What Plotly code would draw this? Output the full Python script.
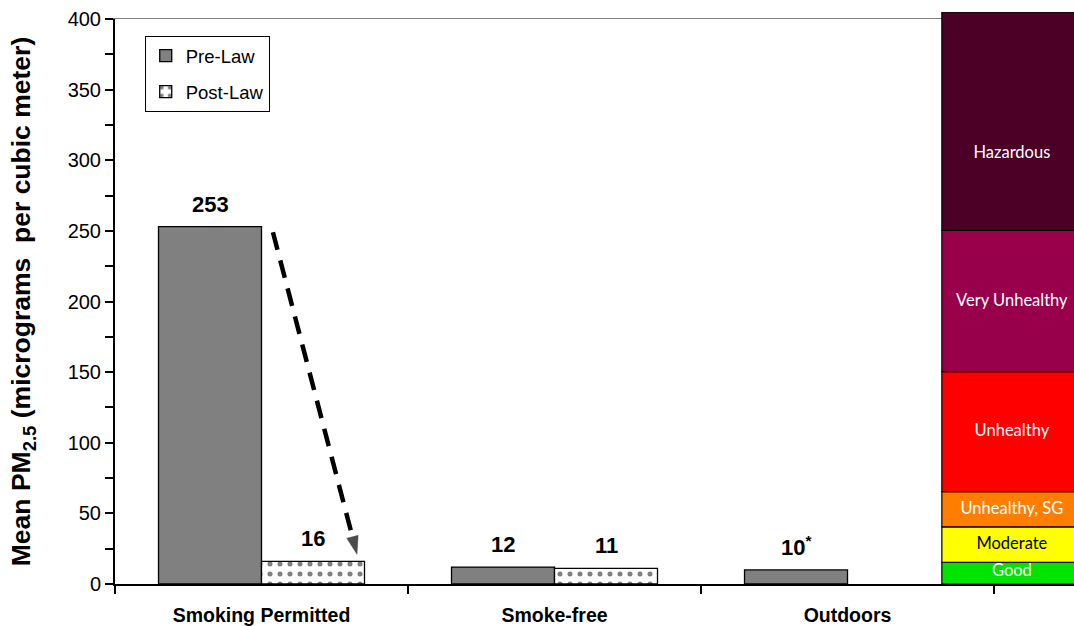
import plotly.graph_objects as go

# Venue categories and mean PM2.5 levels (µg/m³)
categories = ["Smoking Permitted", "Smoke-free", "Outdoors"]
pre_law = [253, 12, 10]
post_law = [16, 11, None]
pre_labels = ["253", "12", "10<sup>*</sup>"]
post_labels = ["16", "11", ""]

# Air Quality Index bands for PM2.5
aqi_names = ["Good", "Moderate", "Unhealthy, SG", "Unhealthy", "Very Unhealthy", "Hazardous"]
aqi_lower = [0, 15.4, 40.4, 65.4, 150.4, 250.4]
aqi_upper = [15.4, 40.4, 65.4, 150.4, 250.4, 405]
aqi_label_y = [8.5, 27.6, 52.4, 107.6, 199.6, 304.5]
aqi_colors = ["#00E400", "#FFFF00", "#FF7E00", "#FF0000", "#99004C", "#4C0026"]
aqi_text_colors = ["white", "black", "white", "white", "white", "white"]

FONT = "Liberation Sans, Arial, sans-serif"
X_RANGE = [-0.5, 2.773]
BAR_W = 0.3515  # each bar's width in category units
PLOT_H = 572    # pixel height of the taller AQI panel
MAIN_H = 565    # pixel height of the 0-400 panel

fig = go.Figure()

fig.add_trace(go.Bar(
    name="Pre-Law", x=categories, y=pre_law,
    marker=dict(color="#808080", line=dict(color="black", width=1.3)),
    legendgroup="pre",
))
fig.add_trace(go.Bar(
    name="Post-Law", x=categories, y=post_law,
    marker=dict(color="white", line=dict(color="black", width=1.3),
                pattern=dict(shape=".", fgcolor="black", bgcolor="white",
                             size=10, solidity=0.2)),
    legendgroup="post",
))

# AQI reference column (own panel, same vertical scale, reaching a little above 400)
aqi_x = 2.561
fig.add_trace(go.Bar(
    x=[aqi_x] * len(aqi_names),
    y=[u - l for l, u in zip(aqi_lower, aqi_upper)],
    base=aqi_lower,
    width=0.478,
    xaxis="x2", yaxis="y2",
    marker=dict(color=aqi_colors, line=dict(color="black", width=1.2)),
    showlegend=False, hoverinfo="skip",
))
fig.add_trace(go.Scatter(
    x=[aqi_x] * len(aqi_names), y=aqi_label_y, xaxis="x2", yaxis="y2",
    mode="text", text=aqi_names,
    textfont=dict(family="Lato, sans-serif", size=16.5, color=aqi_text_colors),
    showlegend=False, hoverinfo="skip",
))

# Dashed arrow from the pre-law level down to the post-law level
arrow_x = [0.039, 0.326]
arrow_y = [pre_law[0] - 4, post_law[0] + 5]
fig.add_trace(go.Scatter(
    x=arrow_x, y=arrow_y, xaxis="x3", yaxis="y", mode="lines+markers",
    line=dict(color="black", width=4.5, dash="18px,11px"),
    marker=dict(symbol=["circle", "arrow"], size=[0, 19], color="black",
                angleref="previous", line=dict(width=0.5, color="black")),
    showlegend=False, hoverinfo="skip",
))

# Value labels above the bars
for i, (v, t) in enumerate(zip(pre_law, pre_labels)):
    fig.add_annotation(x=i - BAR_W / 2, y=v, xref="x3", yref="y", text=f"<b>{t}</b>",
                       showarrow=False, yanchor="bottom", yshift=8,
                       font=dict(family=FONT, size=22, color="black"))
for i, (v, t) in enumerate(zip(post_law, post_labels)):
    if v is None:
        continue
    fig.add_annotation(x=i + BAR_W / 2, y=v, xref="x3", yref="y", text=f"<b>{t}</b>",
                       showarrow=False, yanchor="bottom", yshift=8,
                       font=dict(family=FONT, size=22, color="black"))

fig.update_layout(
    width=1074, height=626,
    margin=dict(l=115, r=0, t=12, b=42),
    paper_bgcolor="white", plot_bgcolor="rgba(0,0,0,0)",
    barmode="group", bargap=0.297,
    font=dict(family=FONT, color="black"),
    showlegend=True,
    legend=dict(x=0.031, y=0.958, xanchor="left", yanchor="top",
                bgcolor="white", bordercolor="black", borderwidth=1,
                font=dict(family=FONT, size=18.5, color="black"),
                tracegroupgap=9, itemwidth=30),
    xaxis=dict(
        type="category", range=X_RANGE, categoryorder="array", categoryarray=categories,
        domain=[0, 1], anchor="y",
        showline=True, linecolor="black", linewidth=1.5,
        ticks="outside", tickson="boundaries", ticklen=8, tickcolor="black", tickwidth=1.5,
        tickfont=dict(family=FONT, size=19.5, color="black", weight="bold"),
        ticklabelstandoff=13,
        showgrid=False, zeroline=False,
    ),
    xaxis2=dict(domain=[0, 1], anchor="y2", range=X_RANGE, visible=False),
    yaxis2=dict(domain=[0, 1], anchor="x2", range=[0, 400 * PLOT_H / MAIN_H], visible=False),
    xaxis3=dict(
        overlaying="x", anchor="y", range=X_RANGE, side="top", showline=True,
        linecolor="#808080", linewidth=1.2, showticklabels=False, ticks="",
        showgrid=False, zeroline=False,
    ),
    yaxis=dict(
        range=[0, 400], domain=[0, MAIN_H / PLOT_H], anchor="x",
        dtick=50, showline=True, linecolor="black", linewidth=2,
        ticks="outside", ticklen=8, tickcolor="black", tickwidth=1.5,
        minor=dict(dtick=25, ticks="outside", ticklen=8, tickcolor="black", tickwidth=1.5),
        tickfont=dict(family=FONT, size=20, color="black"),
        showgrid=False, zeroline=False,
        title=dict(text="<b>Mean PM<sub>2.5</sub> (micrograms&nbsp; per cubic meter)</b>",
                   font=dict(family=FONT, size=26.5, color="black"), standoff=29),
    ),
)

fig.write_html("out.html")
